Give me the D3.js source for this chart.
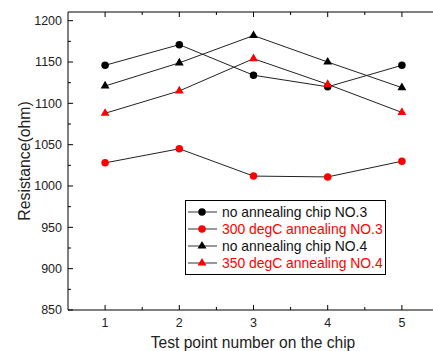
<!DOCTYPE html>
<html>
<head>
<meta charset="utf-8">
<script src="https://cdn.jsdelivr.net/npm/d3@7"></script>
<style>
  body { margin: 0; background: #fff; }
  svg { display: block; font-family: "Liberation Sans", Arial, sans-serif; }
</style>
</head>
<body>
<div id="chart"></div>
<script>
const testPoints = [1, 2, 3, 4, 5];
const noAnnealNo3 = [1146, 1171, 1134, 1120, 1146];
const anneal300No3 = [1028, 1045, 1012, 1011, 1030];
const noAnnealNo4 = [1121, 1149, 1182, 1150, 1119];
const anneal350No4 = [1088, 1115, 1154, 1123, 1089];
const yTicks = [850, 900, 950, 1000, 1050, 1100, 1150, 1200];
const seriesNames = [
  "no annealing chip NO.3",
  "300 degC annealing NO.3",
  "no annealing chip NO.4",
  "350 degC annealing NO.4"
];

const series = [
  { name: seriesNames[0], values: noAnnealNo3, color: "#000", shape: "circle" },
  { name: seriesNames[1], values: anneal300No3, color: "#ff0000", shape: "circle" },
  { name: seriesNames[2], values: noAnnealNo4, color: "#000", shape: "triangle" },
  { name: seriesNames[3], values: anneal350No4, color: "#ff0000", shape: "triangle" }
];

const width = 433, height = 351;
const plot = { left: 68, top: 12, right: 439, bottom: 310 };

const svg = d3.select("#chart").append("svg")
  .attr("width", width).attr("height", height);

const x = d3.scaleLinear().domain([0.5, 5.5]).range([plot.left, plot.right]);
const y = d3.scaleLinear().domain([850, 1210.5]).range([plot.bottom, plot.top]);

const axisColor = "#000";

// frame lines
svg.append("line").attr("x1", plot.left).attr("x2", plot.right)
  .attr("y1", plot.top).attr("y2", plot.top).attr("stroke", axisColor);
svg.append("line").attr("x1", plot.left).attr("x2", plot.right)
  .attr("y1", plot.bottom).attr("y2", plot.bottom).attr("stroke", axisColor);
svg.append("line").attr("x1", plot.left).attr("x2", plot.left)
  .attr("y1", plot.top).attr("y2", plot.bottom).attr("stroke", axisColor);

// ticks (inward), major + minor
const xMinor = d3.range(1.5, 5.5, 1);
const yMinor = d3.range(875, 1210, 50);

function drawTicks(vals, len) {
  vals.forEach(v => {
    svg.append("line").attr("x1", x(v)).attr("x2", x(v))
      .attr("y1", plot.bottom).attr("y2", plot.bottom - len).attr("stroke", axisColor);
    svg.append("line").attr("x1", x(v)).attr("x2", x(v))
      .attr("y1", plot.top).attr("y2", plot.top + len).attr("stroke", axisColor);
  });
}
drawTicks(testPoints, 5);
drawTicks(xMinor, 3);
yTicks.forEach(v => {
  svg.append("line").attr("x1", plot.left).attr("x2", plot.left + 5)
    .attr("y1", y(v)).attr("y2", y(v)).attr("stroke", axisColor);
});
yMinor.forEach(v => {
  svg.append("line").attr("x1", plot.left).attr("x2", plot.left + 3)
    .attr("y1", y(v)).attr("y2", y(v)).attr("stroke", axisColor);
});

// tick labels
svg.selectAll(".ylab").data(yTicks).enter().append("text")
  .attr("x", plot.left - 6).attr("y", d => y(d)).attr("dy", "0.35em")
  .attr("text-anchor", "end").attr("font-size", "12.5px").attr("fill", "#222")
  .text(d => d);
svg.selectAll(".xlab").data(testPoints).enter().append("text")
  .attr("x", d => x(d)).attr("y", 327)
  .attr("text-anchor", "middle").attr("font-size", "12.5px").attr("fill", "#222")
  .text(d => d);

// axis titles
svg.append("text")
  .attr("transform", `translate(30,${(plot.top + plot.bottom) / 2}) rotate(-90)`)
  .attr("text-anchor", "middle").attr("font-size", "15.8px").attr("fill", "#222")
  .text("Resistance(ohm)");
svg.append("text")
  .attr("x", 253).attr("y", 348)
  .attr("text-anchor", "middle").attr("font-size", "15.6px").attr("fill", "#222")
  .text("Test point number on the chip");

// lines + markers
const line = d3.line().x((d, i) => x(testPoints[i])).y(d => y(d));
const symCircle = d3.symbol().type(d3.symbolCircle).size(44);
const symTri = d3.symbol().type(d3.symbolTriangle).size(34);

series.forEach(s => {
  svg.append("path").datum(s.values).attr("d", line)
    .attr("fill", "none").attr("stroke", "#222").attr("stroke-width", 1);
});
series.forEach(s => {
  svg.selectAll(null).data(s.values).enter().append("path")
    .attr("transform", (d, i) => `translate(${x(testPoints[i])},${y(d)})`)
    .attr("d", s.shape === "circle" ? symCircle() : symTri())
    .attr("fill", s.color);
});

// legend
const lg = svg.append("g");
lg.append("rect").attr("x", 185.5).attr("y", 200.5).attr("width", 200).attr("height", 74)
  .attr("fill", "#fff").attr("stroke", "#000");
series.forEach((s, i) => {
  const cy = 212 + i * 17;
  lg.append("line").attr("x1", 188).attr("x2", 217).attr("y1", cy).attr("y2", cy)
    .attr("stroke", "#333");
  lg.append("path").attr("transform", `translate(202,${cy})`)
    .attr("d", s.shape === "circle" ? symCircle() : symTri())
    .attr("fill", s.color);
  lg.append("text").attr("x", 222).attr("y", cy).attr("dy", "0.35em")
    .attr("font-size", "13.9px").attr("fill", s.color === "#000" ? "#111" : "#ff0000")
    .text(s.name);
});
</script>
</body>
</html>
